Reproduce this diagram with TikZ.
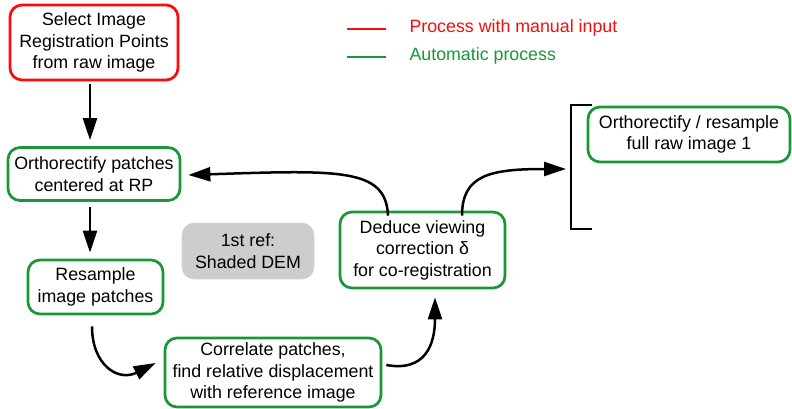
\documentclass[tikz,border=0pt]{standalone}
\usepackage{fontspec}
\setmainfont{Liberation Sans}
\usetikzlibrary{arrows.meta}

\definecolor{manred}{RGB}{250,10,10}
\definecolor{autogreen}{RGB}{25,150,55}
\definecolor{refgray}{RGB}{205,205,205}

\tikzset{
    stepbox/.style={draw, line width=2.7pt, rounded corners=12pt, align=center,
        inner sep=0pt, font=\fontsize{17.8}{21.6}\selectfont},
    manual/.style={stepbox, draw=manred},
    auto/.style={stepbox, draw=autogreen},
    flow/.style={line width=2.5pt, -{Triangle[length=22pt,width=14pt]}}
}

\begin{document}
\begin{tikzpicture}[x=1pt, y=-1pt]
    \useasboundingbox (0,0) rectangle (792,409);

    % Process boxes
    \node[manual, minimum width=168pt, minimum height=75pt] (sel) at (94,42.5)
        {Select Image\\Registration Points\\from raw image};
    \node[auto, minimum width=172pt, minimum height=53pt] (orp) at (94,174)
        {Orthorectify patches\\centered at RP};
    \node[auto, minimum width=135pt, minimum height=54pt] (res) at (95.5,287)
        {Resample\\image patches};
    \node[auto, minimum width=216pt, minimum height=69pt] (cor) at (273,372.5)
        {Correlate patches,\\find relative displacement\\with reference image};
    \node[auto, minimum width=165pt, minimum height=76pt] (ded) at (422.5,250)
        {Deduce viewing\\correction δ\\for co-registration};
    \node[auto, minimum width=202pt, minimum height=55pt] (full) at (689,134.5)
        {Orthorectify / resample\\full raw image 1};

    % Reference DEM
    \node[stepbox, draw=refgray!80!white, line width=0.6pt, fill=refgray,
        minimum width=132pt, minimum height=56pt] (dem) at (248,251)
        {1st ref:\\Shaded DEM};

    % Bracket
    \draw[line width=1.2pt] (592,105) -- (571,105) -- (571,229) -- (592,229);
    \coordinate (brk) at (566,169);

    % Legend
    \draw[manred, line width=2.5pt] (347,29) -- (386,29);
    \node[anchor=west, text=manred, font=\fontsize{17.8}{21.6}\selectfont] (legman) at (406,28)
        {Process with manual input};
    \draw[autogreen, line width=2.5pt] (347,57) -- (386,57);
    \node[anchor=west, text=autogreen, font=\fontsize{17.8}{21.6}\selectfont] (legauto) at (406,56)
        {Automatic process};

    % Connectors
    \draw[flow] ([xshift=-4pt]sel.south) ++(0,3) -- ([xshift=-4pt,yshift=6pt]orp.north);
    \draw[flow] ([xshift=-4pt,yshift=-5pt]orp.south) -- ([xshift=-5.5pt,yshift=6pt]res.north);
    \draw[flow] ([xshift=-3.5pt,yshift=-11pt]res.south)
        .. controls (92,365) and (118,382) .. ([xshift=-8pt,yshift=9.5pt]cor.west);
    \draw[flow] ([xshift=4pt,yshift=7.5pt]cor.east)
        .. controls (425,372) and (435,345) .. ([xshift=12.5pt,yshift=-8pt]ded.south);
    \draw[flow] ([xshift=-34.5pt,yshift=-5pt]ded.north)
        .. controls (386,168) and (340,170) .. ([xshift=7pt,yshift=-1pt]orp.east);
    \draw[flow] ([xshift=39.5pt,yshift=-5pt]ded.north)
        .. controls (462,175) and (490,169) .. (brk);
\end{tikzpicture}
\end{document}
